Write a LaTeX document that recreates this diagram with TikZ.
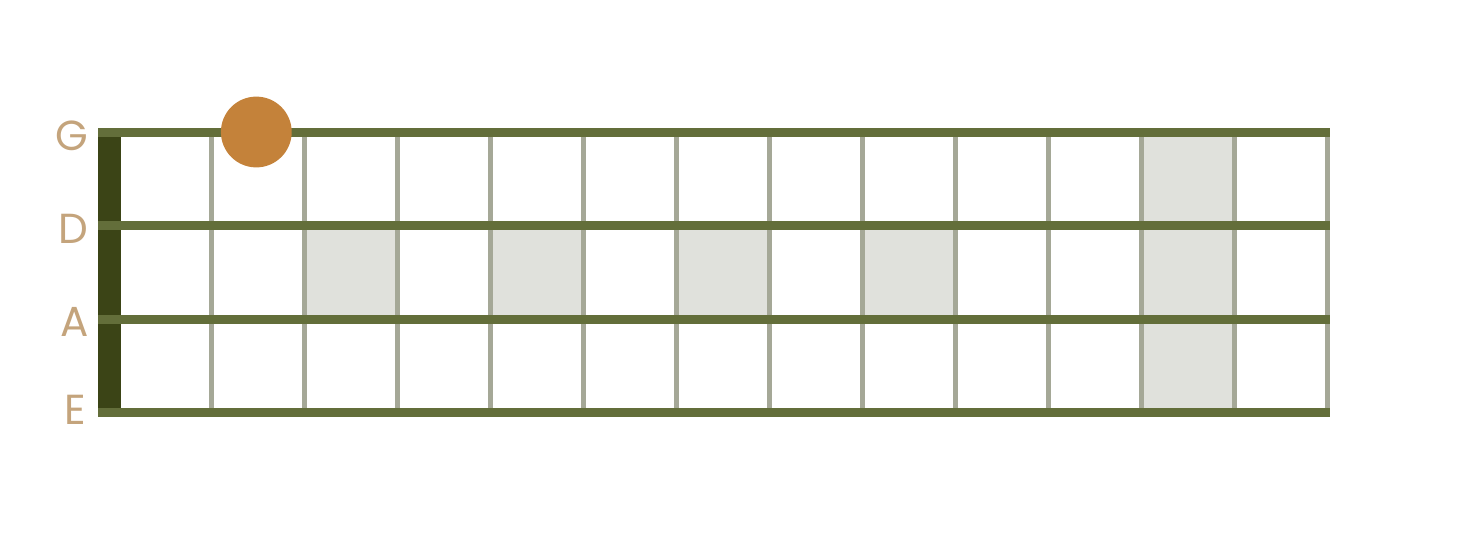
\documentclass[tikz,border=0pt]{standalone}
\usepackage{fontspec}
\setmainfont{Poppins}
\definecolor{strcol}{HTML}{636E3A}
\definecolor{nutcol}{HTML}{3B4416}
\definecolor{fretcol}{HTML}{A5A897}
\definecolor{cellcol}{HTML}{E0E1DC}
\definecolor{dotcol}{HTML}{C4823A}
\definecolor{labcol}{HTML}{C4A47C}
\begin{document}
\begin{tikzpicture}[x=1pt,y=-1pt,
  stringline/.style={draw=strcol,line width=9pt},
  fretline/.style={draw=fretcol,line width=4.5pt},
  cell/.style={fill=cellcol},
  strlabel/.style={text=labcol,font=\fontsize{42}{42}\selectfont,anchor=east,inner sep=0pt}]
\useasboundingbox (0,0) rectangle (1469,549);
% shaded cells
\foreach \a in {304.5,490.5,676.5,862.5}
  \fill[cellcol] (\a,225.5) rectangle ++(93,93.5);
\fill[cellcol] (1141.5,132) rectangle (1234.5,412.5);
% nut
\fill[nutcol] (98,128) rectangle (121,417);
% frets
\foreach \f in {211.5,304.5,397.5,490.5,583.5,676.5,769.5,862.5,955.5,1048.5,1141.5,1234.5}
  \draw[fretline] (\f,132) -- (\f,412.5);
\draw[fretline] (1327.5,132) -- (1327.5,412.5);
% strings
\coordinate (gl) at (98,132);   \coordinate (gr) at (1330,132);
\coordinate (dl) at (98,225.5); \coordinate (dr) at (1330,225.5);
\coordinate (al) at (98,319);   \coordinate (ar) at (1330,319);
\coordinate (el) at (98,412.5); \coordinate (er) at (1330,412.5);
\draw[stringline] (gl) -- (gr);
\draw[stringline] (dl) -- (dr);
\draw[stringline] (al) -- (ar);
\draw[stringline] (el) -- (er);
% labels
\node[strlabel] (lg) at (88,136) {G};
\node[strlabel] (ld) at (88,229) {D};
\node[strlabel] (la) at (89,322) {A};
\node[strlabel] (le) at (86,410) {E};
% dot
\fill[dotcol] (256.3,132) circle (35.4);
\end{tikzpicture}
\end{document}
